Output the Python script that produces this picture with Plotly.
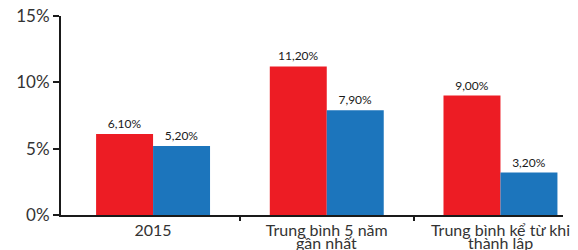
import plotly.graph_objects as go

categories = ["2015", "Trung bình 5 năm\ngần nhất", "Trung bình kể từ khi\nthành lập"]
red_values = [6.10, 11.20, 9.00]
blue_values = [5.20, 7.90, 3.20]
y_ticks = [0, 5, 10, 15]
y_tick_labels = ["0%", "5%", "10%", "15%"]

x_pos = list(range(len(categories)))
first_lines = [c.split("\n")[0] for c in categories]
second_lines = [c.split("\n")[1] if "\n" in c else "" for c in categories]

fig = go.Figure()
fig.add_trace(go.Bar(
    x=x_pos, y=red_values, marker=dict(color="#ED1C24", line=dict(width=0)),
    texttemplate="%{y:.2f}%", textposition="outside",
    textfont=dict(size=12, color="#1a1a1a", family="Lato"), cliponaxis=False,
))
fig.add_trace(go.Bar(
    x=x_pos, y=blue_values, marker=dict(color="#1C75BC", line=dict(width=0)),
    texttemplate="%{y:.2f}%", textposition="outside",
    textfont=dict(size=12, color="#1a1a1a", family="Lato"), cliponaxis=False,
))

for xp, txt in zip(x_pos, second_lines):
    if txt:
        fig.add_annotation(
            x=xp, y=0, xref="x", yref="y", text=txt, showarrow=False,
            yanchor="top", xanchor="center", yshift=-16,
            font=dict(size=16, color="#333333", family="Lato"),
        )

fig.update_layout(
    width=578, height=250,
    margin=dict(l=53, r=23, t=8, b=43, autoexpand=False),
    barmode="group", bargap=0.344, bargroupgap=0,
    showlegend=False,
    plot_bgcolor="white", paper_bgcolor="white",
    separators=",.",
    font=dict(family="Lato", color="#333333"),
    uniformtext=dict(minsize=8, mode="show"),
)
fig.update_xaxes(
    range=[-0.53, 2.36], automargin=False,
    tickmode="array", tickvals=x_pos, ticktext=first_lines, ticks="",
    tickfont=dict(size=16, color="#333333"),
    ticklabeloverflow="allow",
    showline=True, linecolor="#1a1a1a", linewidth=2,
    showgrid=False, zeroline=False,
    minor=dict(tickmode="array", tickvals=[0.5, 1.5], ticks="outside",
               ticklen=4, tickwidth=2, tickcolor="#1a1a1a", showgrid=False),
)
fig.update_yaxes(
    range=[0, 15], automargin=False,
    tickmode="array", tickvals=y_ticks, ticktext=y_tick_labels,
    ticks="outside", ticklen=6, tickwidth=2, tickcolor="#1a1a1a",
    tickfont=dict(size=17, color="#333333"),
    ticklabeloverflow="allow",
    showline=True, linecolor="#1a1a1a", linewidth=2,
    showgrid=False, zeroline=False,
)

fig.write_html("out.html")
